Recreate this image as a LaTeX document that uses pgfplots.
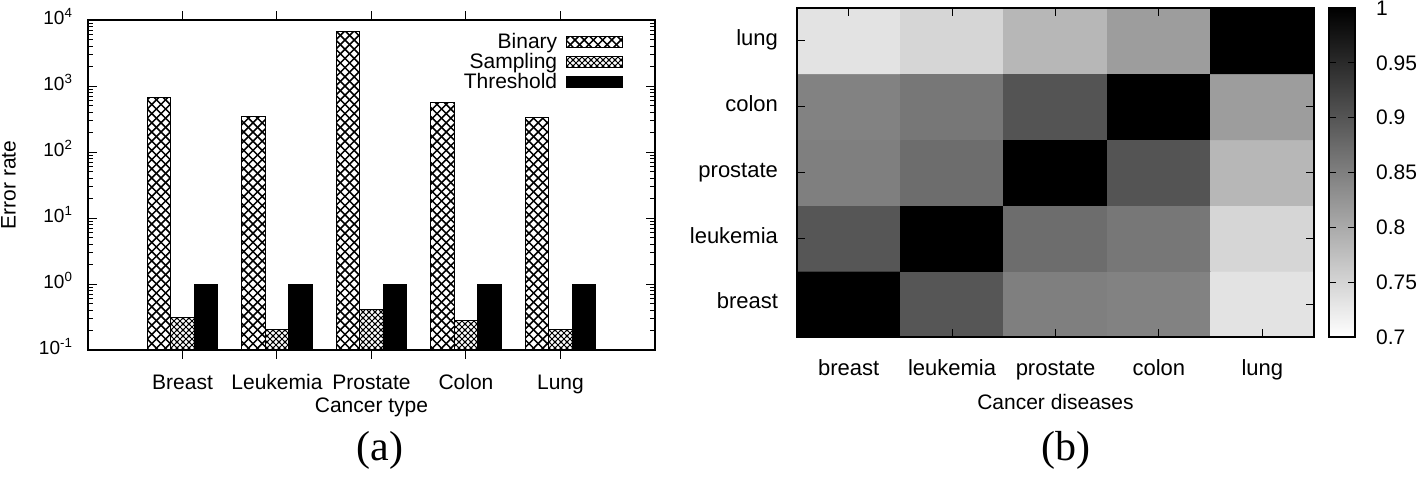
\documentclass[border=0pt]{standalone}
\usepackage{pgfplots}
\pgfplotsset{compat=1.18}
\usepackage{fontspec}
\setmainfont{Liberation Sans}
\newfontfamily\seriffont{Liberation Serif}
\usetikzlibrary{patterns.meta}
\newcommand{\fs}{\fontsize{10.5pt}{12pt}\selectfont}
\newcommand{\fsy}{\fontsize{9.5pt}{12pt}\selectfont}
\newcommand{\fsh}{\fontsize{11pt}{12pt}\selectfont}

\tikzdeclarepattern{
  name=xhatch,
  type=uncolored,
  bottom left={(-0.1pt,-0.1pt)},
  top right={(4.7pt,4.7pt)},
  tile size={(4.6pt,4.6pt)},
  code={
    \draw[line width=0.75pt] (0pt,0pt) -- (4.6pt,4.6pt) (0pt,4.6pt) -- (4.6pt,0pt);
  }
}
\tikzdeclarepattern{
  name=dhatch,
  type=uncolored,
  bottom left={(-0.1pt,-0.1pt)},
  top right={(3.1pt,3.1pt)},
  tile size={(3pt,3pt)},
  code={
    \draw[line width=0.5pt] (0pt,0pt) -- (3pt,3pt) (0pt,3pt) -- (3pt,0pt);
    \draw[line width=0.4pt] (1.5pt,1.5pt) circle (0.5pt);
  }
}

\pgfplotstableread{
x binary sampling threshold
1 665 0.313 1.0
2 343 0.208 0.97
3 6650 0.417 0.97
4 558 0.278 1.0
5 335 0.208 0.97
}\errtab

\begin{document}
\begin{tikzpicture}
\useasboundingbox (0pt,0pt) rectangle (709pt,-238.5pt);

\begin{axis}[
  at={(44pt,-10pt)}, anchor=north west,
  scale only axis, width=283.5pt, height=165pt,
  ymode=log, log origin=infty,
  xmin=0, xmax=6, ymin=0.1, ymax=10000,
  xtick={1,2,3,4,5},
  xticklabels={Breast,Leukemia,Prostate,Colon,Lung},
  ytick={0.1,1,10,100,1000,10000},
  yticklabels={10\textsuperscript{-1},10\textsuperscript{0},10\textsuperscript{1},10\textsuperscript{2},10\textsuperscript{3},10\textsuperscript{4}},
  minor ytick={0.2,0.3,0.4,0.5,0.6,0.7,0.8,0.9,2,3,4,5,6,7,8,9,20,30,40,50,60,70,80,90,200,300,400,500,600,700,800,900,2000,3000,4000,5000,6000,7000,8000,9000},
  tick align=inside, major tick length=4.5pt, minor tick length=2.5pt,
  tick style={black, line width=0.5pt},
  axis line style={line width=0.6pt},
  typeset ticklabels with strut,
  xticklabel style={font=\fs, yshift=-3.1pt},
  yticklabel style={font=\fsy, xshift=-4pt},
  xlabel={Cancer type}, ylabel={Error rate},
  label style={font=\fs},
  xlabel style={at={(axis description cs:0.5,-0.173)}, anchor=center},
  ylabel style={at={(axis description cs:-0.14,0.5)}, anchor=center, rotate=0},
  ybar=0pt, bar width=11.8pt,
  legend plot pos=right,
  legend cell align=right,
  legend style={draw=none, fill=none, font=\fs, at={(1,1)}, anchor=north east,
    xshift=-13pt, yshift=-3pt, row sep=-1.5pt, column sep=3pt,
    nodes={inner sep=1.2pt}},
]
\addplot[draw=black, line width=0.5pt, pattern=xhatch, bar shift=-11.8pt,
  legend image code/.code={\draw[draw=black, line width=0.5pt, pattern=xhatch] (0pt,-2.6pt) rectangle (28pt,2.6pt);}]
  table[x=x, y=binary] {\errtab};
\addlegendentry{Binary}
\addplot[draw=black, line width=0.5pt, pattern=dhatch, bar shift=0pt,
  legend image code/.code={\draw[draw=black, line width=0.5pt, pattern=dhatch] (0pt,-2.6pt) rectangle (28pt,2.6pt);}]
  table[x=x, y=sampling] {\errtab};
\addlegendentry{Sampling}
\addplot[draw=black, line width=0.5pt, fill=black, bar shift=11.8pt,
  legend image code/.code={\draw[draw=black, line width=0.5pt, fill=black] (0pt,-2.6pt) rectangle (28pt,2.6pt);}]
  table[x=x, y=threshold] {\errtab};
\addlegendentry{Threshold}
\end{axis}

\begin{axis}[
  at={(398.5pt,-4pt)}, anchor=north west,
  scale only axis, width=258.5pt, height=164.5pt,
  xmin=-0.5, xmax=4.5, ymin=-0.5, ymax=4.5,
  enlargelimits=false, axis on top,
  xtick={0,1,2,3,4}, ytick={0,1,2,3,4},
  xticklabels={breast,leukemia,prostate,colon,lung},
  yticklabels={breast,leukemia,prostate,colon,lung},
  tick align=inside, major tick length=4pt,
  tick style={black, line width=0.5pt},
  axis line style={line width=0.6pt},
  typeset ticklabels with strut,
  tick label style={font=\fsh},
  xticklabel style={yshift=-7.3pt},
  yticklabel style={xshift=-6pt},
  xlabel={Cancer diseases},
  label style={font=\fs},
  xlabel style={at={(axis description cs:0.5,-0.198)}, anchor=center},
  colormap={bw}{gray(0cm)=(1); gray(1cm)=(0)},
  point meta min=0.7, point meta max=1,
  colorbar,
  colorbar style={
    at={(parent axis.north east)}, anchor=north west, xshift=-1pt,
    width=13pt,
    ytick={0.7,0.75,0.8,0.85,0.9,0.95,1},
    yticklabel pos=right, ytick pos=both,
    tick align=inside, major tick length=3.5pt,
    tick style={black, line width=0.5pt},
    axis line style={line width=0.6pt},
    yticklabel style={font=\fs, xshift=7pt, /pgf/number format/assume math mode=true, /pgf/number format/fixed},
  },
]
\addplot[matrix plot*, mesh/cols=5, point meta=explicit] table[meta=c] {
x y c
0 0 1
1 0 0.898
2 0 0.849
3 0 0.846
4 0 0.733
0 1 0.898
1 1 1
2 1 0.871
3 1 0.859
4 1 0.748
0 2 0.849
1 2 0.871
2 2 1
3 2 0.900
4 2 0.784
0 3 0.846
1 3 0.859
2 3 0.900
3 3 1
4 3 0.814
0 4 0.733
1 4 0.748
2 4 0.784
3 4 0.814
4 4 1
};
\end{axis}

\node[font=\seriffont\fontsize{21pt}{24pt}\selectfont, anchor=center] at (190pt,-225pt) {(a)};
\node[font=\seriffont\fontsize{21pt}{24pt}\selectfont, anchor=center] at (533pt,-225pt) {(b)};
\end{tikzpicture}
\end{document}
